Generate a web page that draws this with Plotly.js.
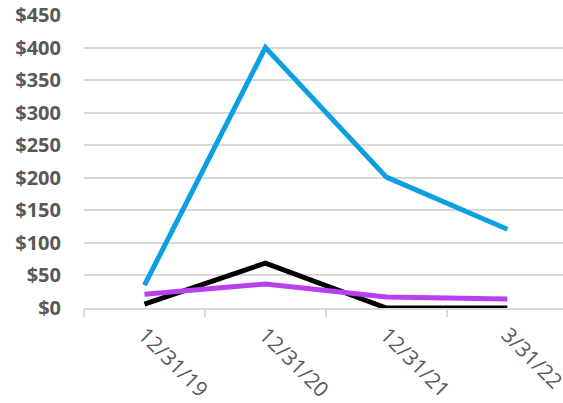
<!DOCTYPE html>
<html>
<head>
<meta charset="utf-8">
<script src="https://cdn.plot.ly/plotly-3.0.1.min.js"></script>
<style>html,body{margin:0;padding:0;background:#fff;}#chart{width:563px;height:403px;}</style>
</head>
<body>
<div id="chart"></div>
<script>
const categories = ["12/31/19", "12/31/20", "12/31/21", "3/31/22"];
const blueSeries = [35, 400, 201, 121];
const blackSeries = [6, 69, 0, 0];
const purpleSeries = [21, 37, 17, 14];
const yTickValues = [0, 50, 100, 150, 200, 250, 300, 350, 400, 450];
const yTickLabels = ["$0", "$50", "$100", "$150", "$200", "$250", "$300", "$350", "$400", "$450"];

const traces = [
  {x: categories, y: blackSeries, type: "scatter", mode: "lines", line: {color: "#000000", width: 5}, name: "Black"},
  {x: categories, y: purpleSeries, type: "scatter", mode: "lines", line: {color: "#B940F0", width: 5}, name: "Purple"},
  {x: categories, y: blueSeries, type: "scatter", mode: "lines", line: {color: "#0C9FE2", width: 5}, name: "Blue"}
];

const layout = {
  width: 563, height: 403,
  margin: {l: 84, r: 0, t: 15, b: 95, pad: 0},
  paper_bgcolor: "#ffffff", plot_bgcolor: "#ffffff",
  showlegend: false,
  xaxis: {
    type: "category",
    range: [-0.5, 3.46],
    showgrid: false,
    showline: true, linecolor: "#D9D9D9", linewidth: 1.5,
    ticks: "outside", tickson: "boundaries", ticklen: 7, tickcolor: "#D9D9D9", tickwidth: 1.5,
    tickangle: 45,
    ticklabelstandoff: 5,
    tickfont: {family: "Open Sans, sans-serif", size: 21, color: "#595959"},
    zeroline: false, automargin: false
  },
  yaxis: {
    range: [0, 450],
    tickvals: yTickValues, ticktext: yTickLabels,
    showgrid: true, gridcolor: "#D9D9D9", gridwidth: 2,
    showline: false, zeroline: false, ticks: "",
    ticklabelstandoff: 22,
    tickfont: {family: "Open Sans, sans-serif", size: 20, color: "#595959", weight: "bold"},
    automargin: false
  }
};

Plotly.newPlot("chart", traces, layout, {displayModeBar: false, staticPlot: true});
</script>
</body>
</html>
